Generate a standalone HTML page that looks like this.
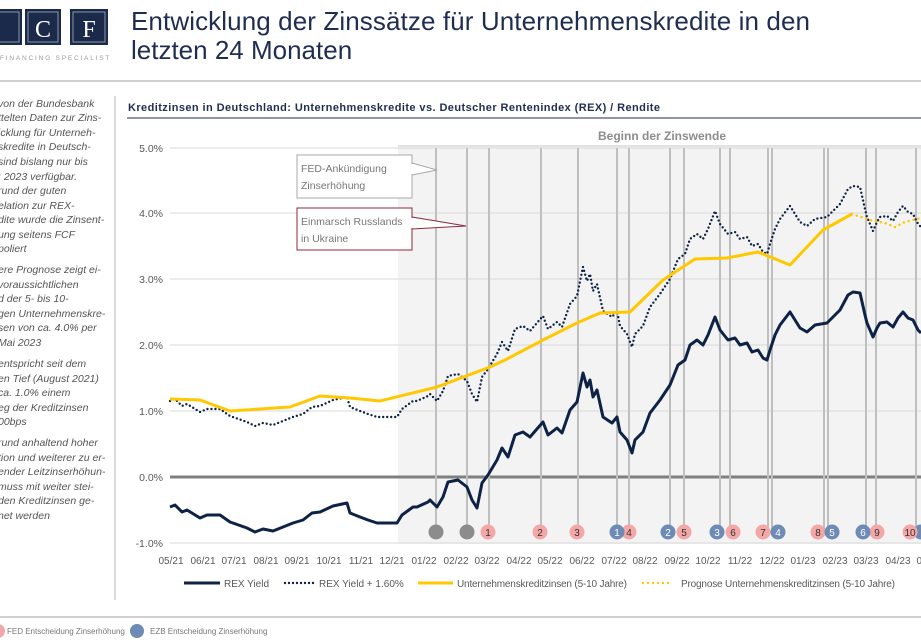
<!DOCTYPE html>
<html><head><meta charset="utf-8"><style>
body{margin:0;width:921px;height:638px;overflow:hidden;background:#fff;font-family:"Liberation Sans",sans-serif}
</style></head><body>
<svg width="921" height="638" viewBox="0 0 921 638" xmlns="http://www.w3.org/2000/svg" font-family="Liberation Sans, sans-serif">
<!-- logo -->
<rect x="-8" y="9" width="30" height="36" fill="#1b2a4a"/>
<rect x="-5" y="12" width="24" height="30" fill="none" stroke="#8a95aa" stroke-width="1"/>
<rect x="25" y="9" width="36" height="36" fill="#1b2a4a"/>
<rect x="28" y="12" width="30" height="30" fill="none" stroke="#8a95aa" stroke-width="1"/>
<text x="43" y="37" font-family="Liberation Serif, serif" font-size="24" fill="#fff" text-anchor="middle">C</text>
<rect x="70" y="9" width="38" height="36" fill="#1b2a4a"/>
<rect x="73" y="12" width="32" height="30" fill="none" stroke="#8a95aa" stroke-width="1"/>
<text x="89" y="37" font-family="Liberation Serif, serif" font-size="24" fill="#fff" text-anchor="middle">F</text>
<text x="0" y="60" font-size="6.5" fill="#9a9a9a" letter-spacing="1.8">FINANCING SPECIALIST</text>
<!-- title -->
<text x="131" y="30" font-size="26" fill="#1f2d4f" textLength="679">Entwicklung der Zinssätze für Unternehmenskredite in den</text>
<text x="131" y="59" font-size="26" fill="#1f2d4f">letzten 24 Monaten</text>
<line x1="0" y1="81" x2="921" y2="81" stroke="#d0d0d0" stroke-width="2"/>
<line x1="115" y1="96" x2="115" y2="600" stroke="#d0d0d0" stroke-width="1.5"/>
<!-- left text -->
<g font-size="10.5" font-style="italic" fill="#555">
<text x="-2" y="107">von der Bundesbank</text>
<text x="-2" y="121">ttelten Daten zur Zins-</text>
<text x="-2" y="136">icklung für Unterneh-</text>
<text x="-2" y="150">skredite in Deutsch-</text>
<text x="-2" y="165">sind bislang nur bis</text>
<text x="-2" y="180">: 2023 verfügbar.</text>
<text x="-2" y="194">rund der guten</text>
<text x="-2" y="209">elation zur REX-</text>
<text x="-2" y="223">dite wurde die Zinsent-</text>
<text x="-2" y="238">ung  seitens FCF</text>
<text x="-2" y="252">poliert</text>
<text x="-2" y="273">ere Prognose zeigt ei-</text>
<text x="-2" y="288">voraussichtlichen</text>
<text x="-2" y="302">d der 5- bis 10-</text>
<text x="-2" y="317">gen Unternehmenskre-</text>
<text x="-2" y="331">sen  von ca. 4.0% per</text>
<text x="-2" y="346"> Mai 2023</text>
<text x="-2" y="367"> entspricht seit dem</text>
<text x="-2" y="382">en Tief (August 2021)</text>
<text x="-2" y="396">ca. 1.0% einem</text>
<text x="-2" y="411">eg der Kreditzinsen</text>
<text x="-2" y="425">00bps</text>
<text x="-2" y="446">rund anhaltend hoher</text>
<text x="-2" y="461">tion und weiterer zu er-</text>
<text x="-2" y="475">ender Leitzinserhöhun-</text>
<text x="-2" y="490"> muss  mit weiter stei-</text>
<text x="-2" y="504">den Kreditzinsen ge-</text>
<text x="-2" y="519">net werden</text>
</g>
<!-- chart title -->
<text x="128" y="111" font-size="11" font-weight="bold" fill="#1f2d4f" textLength="532">Kreditzinsen in Deutschland:  Unternehmenskredite vs. Deutscher Rentenindex  (REX)  / Rendite</text>
<line x1="127" y1="118" x2="921" y2="118" stroke="#1f2d4f" stroke-width="1"/>
<!-- shaded -->
<rect x="398" y="147" width="523" height="397" fill="#f3f3f3"/>
<text x="598" y="140" font-size="12" font-weight="bold" fill="#8c8c8c">Beginn der Zinswende</text>
<line x1="398" y1="146" x2="921" y2="146" stroke="#d8d8d8" stroke-width="1.5"/>
<!-- grid -->
<g stroke="#d9d9d9" stroke-width="1">
<line x1="170" y1="148" x2="921" y2="148"/><line x1="170" y1="213" x2="921" y2="213"/>
<line x1="170" y1="279" x2="921" y2="279"/><line x1="170" y1="345" x2="921" y2="345"/>
<line x1="170" y1="411" x2="921" y2="411"/><line x1="170" y1="543" x2="921" y2="543"/>
</g>
<line x1="170" y1="477" x2="921" y2="477" stroke="#7f7f7f" stroke-width="3"/>
<g font-size="10.5" fill="#595959" text-anchor="end">
<text x="163" y="152">5.0%</text><text x="163" y="217">4.0%</text><text x="163" y="283">3.0%</text>
<text x="163" y="349">2.0%</text><text x="163" y="415">1.0%</text><text x="163" y="481">0.0%</text><text x="163" y="547">-1.0%</text>
</g>
<!-- vertical lines -->
<g stroke="#bfbfbf" stroke-width="2">
<line x1="436" y1="148" x2="436" y2="530"/><line x1="467" y1="148" x2="467" y2="530"/>
<line x1="489" y1="148" x2="489" y2="530"/><line x1="541" y1="148" x2="541" y2="530"/>
<line x1="578" y1="148" x2="578" y2="530"/><line x1="617" y1="148" x2="617" y2="530"/>
<line x1="629" y1="148" x2="629" y2="530"/><line x1="670" y1="148" x2="670" y2="530"/>
<line x1="684" y1="148" x2="684" y2="530"/><line x1="720" y1="148" x2="720" y2="530"/>
<line x1="730" y1="148" x2="730" y2="530"/><line x1="768" y1="148" x2="768" y2="530"/>
<line x1="772" y1="148" x2="772" y2="530"/><line x1="824" y1="148" x2="824" y2="530"/>
<line x1="828" y1="148" x2="828" y2="530"/><line x1="866" y1="148" x2="866" y2="530"/>
<line x1="876" y1="148" x2="876" y2="530"/><line x1="916" y1="148" x2="916" y2="530"/>
</g>
<!-- annotation boxes -->
<polygon points="412,163 437,170 412,175" fill="#fff" stroke="#aaa"/>
<rect x="297" y="155" width="115" height="43" fill="#fff" stroke="#aaa"/>
<rect x="411" y="164" width="2" height="10" fill="#fff"/>
<text x="301" y="172" font-size="10.5" fill="#777">FED-Ankündigung</text>
<text x="301" y="189" font-size="10.5" fill="#777">Zinserhöhung</text>
<polygon points="412,217 466,226 412,229" fill="#fff" stroke="#8b2a3a"/>
<rect x="297" y="208" width="115" height="42" fill="#fff" stroke="#8b2a3a"/>
<rect x="411" y="218" width="2" height="10" fill="#fff"/>
<text x="301" y="225" font-size="10.5" fill="#777">Einmarsch  Russlands</text>
<text x="301" y="242" font-size="10.5" fill="#777">in Ukraine</text>
<!-- series -->
<polyline points="170,507 175,505 182,512 187,510 200,518 207,515 220,515 230,522 247,528 255,532 263,529 273,531 283,527 293,523 303,520 312,513 320,512 333,506 347,503 350,513 360,517 368,520 377,523 397,523 402,515 413,507 417,507 428,502 430,500 437,507 443,497 448,482 458,480 467,487 472,500 477,508 482,483 488,475 497,460 502,448 508,457 515,435 523,432 530,437 543,422 548,435 557,428 562,433 570,410 577,402 583,373 587,387 590,380 593,397 597,390 603,417 612,423 617,417 620,432 627,440 632,453 635,440 643,432 650,413 660,400 670,385 678,365 685,360 690,345 697,340 703,345 708,335 715,317 720,330 728,340 735,338 740,345 747,343 752,352 758,350 763,358 767,360 770,350 775,335 780,325 790,312 795,320 800,328 807,332 815,325 827,323 835,315 840,310 848,295 853,292 860,293 865,315 867,323 873,337 877,328 880,323 887,322 893,327 898,318 903,312 908,318 913,320 918,330 921,333" fill="none" stroke="#0d2244" stroke-width="3" stroke-linejoin="round"/>
<polyline transform="translate(0,-106)" points="170,507 175,505 182,512 187,510 200,518 207,515 220,515 230,522 247,528 255,532 263,529 273,531 283,527 293,523 303,520 312,513 320,512 333,506 347,503 350,513 360,517 368,520 377,523 397,523 402,515 413,507 417,507 428,502 430,500 437,507 443,497 448,482 458,480 467,487 472,500 477,508 482,483 488,475 497,460 502,448 508,457 515,435 523,432 530,437 543,422 548,435 557,428 562,433 570,410 577,402 583,373 587,387 590,380 593,397 597,390 603,417 612,423 617,417 620,432 627,440 632,453 635,440 643,432 650,413 660,400 670,385 678,365 685,360 690,345 697,340 703,345 708,335 715,317 720,330 728,340 735,338 740,345 747,343 752,352 758,350 763,358 767,360 770,350 775,335 780,325 790,312 795,320 800,328 807,332 815,325 827,323 835,315 840,310 848,295 853,292 860,293 865,315 867,323 873,337 877,328 880,323 887,322 893,327 898,318 903,312 908,318 913,320 918,330 921,333" fill="none" stroke="#0d2244" stroke-width="2.4" stroke-linecap="round" stroke-dasharray="0 4"/>
<polyline points="170,399 200,400 230,411 290,407 320,396 350,398 380,401 437,387 490,367 505,360 543,340 577,323 600,313 630,312 663,280 695,259 727,258 758,252 790,265 823,230 852,214" fill="none" stroke="#ffc800" stroke-width="3" stroke-linejoin="round"/>
<polyline points="852,214 870,220 885,223 895,227 905,222 921,218" fill="none" stroke="#ffc800" stroke-width="2.5" stroke-linecap="round" stroke-dasharray="0 5"/>
<!-- markers -->
<g font-size="10" text-anchor="middle" fill="#333">
<circle cx="436" cy="532" r="7.5" fill="#8c8c8c"/><circle cx="467" cy="532" r="7.5" fill="#8c8c8c"/>
<circle cx="488" cy="532" r="7.5" fill="#f4a7a7"/><text x="488" y="536">1</text>
<circle cx="540" cy="532" r="7.5" fill="#f4a7a7"/><text x="540" y="536">2</text>
<circle cx="577" cy="532" r="7.5" fill="#f4a7a7"/><text x="577" y="536">3</text>
<circle cx="629" cy="532" r="7.5" fill="#f4a7a7"/><text x="629" y="536">4</text>
<circle cx="617" cy="532" r="7.5" fill="#6d8bb5"/><text x="617" y="536" fill="#fff">1</text>
<circle cx="684" cy="532" r="7.5" fill="#f4a7a7"/><text x="684" y="536">5</text>
<circle cx="668" cy="532" r="7.5" fill="#6d8bb5"/><text x="668" y="536" fill="#fff">2</text>
<circle cx="733" cy="532" r="7.5" fill="#f4a7a7"/><text x="733" y="536">6</text>
<circle cx="717" cy="532" r="7.5" fill="#6d8bb5"/><text x="717" y="536" fill="#fff">3</text>
<circle cx="763" cy="532" r="7.5" fill="#f4a7a7"/><text x="763" y="536">7</text>
<circle cx="778" cy="532" r="7.5" fill="#6d8bb5"/><text x="778" y="536" fill="#fff">4</text>
<circle cx="818" cy="532" r="7.5" fill="#f4a7a7"/><text x="818" y="536">8</text>
<circle cx="832" cy="532" r="7.5" fill="#6d8bb5"/><text x="832" y="536" fill="#fff">5</text>
<circle cx="877" cy="532" r="7.5" fill="#f4a7a7"/><text x="877" y="536">9</text>
<circle cx="863" cy="532" r="7.5" fill="#6d8bb5"/><text x="863" y="536" fill="#fff">6</text>
<circle cx="921" cy="532" r="7.5" fill="#6d8bb5"/>
<circle cx="910" cy="532" r="7.5" fill="#f4a7a7"/><text x="910" y="536">10</text>
</g>
<!-- x labels -->
<g font-size="10" fill="#595959" text-anchor="middle">
<text x="171" y="564">05/21</text><text x="203" y="564">06/21</text><text x="234" y="564">07/21</text>
<text x="266" y="564">08/21</text><text x="297" y="564">09/21</text><text x="329" y="564">10/21</text>
<text x="361" y="564">11/21</text><text x="392" y="564">12/21</text><text x="424" y="564">01/22</text>
<text x="456" y="564">02/22</text><text x="487" y="564">03/22</text><text x="519" y="564">04/22</text>
<text x="550" y="564">05/22</text><text x="582" y="564">06/22</text><text x="614" y="564">07/22</text>
<text x="645" y="564">08/22</text><text x="677" y="564">09/22</text><text x="708" y="564">10/22</text>
<text x="740" y="564">11/22</text><text x="772" y="564">12/22</text><text x="803" y="564">01/23</text>
<text x="835" y="564">02/23</text><text x="866" y="564">03/23</text><text x="898" y="564">04/23</text>
<text x="929" y="564">05/23</text>
</g>
<!-- legend -->
<line x1="184" y1="583" x2="220" y2="583" stroke="#0d2244" stroke-width="3"/>
<text x="224" y="587" font-size="10" fill="#595959">REX Yield</text>
<line x1="285" y1="583" x2="315" y2="583" stroke="#0d2244" stroke-width="2.4" stroke-linecap="round" stroke-dasharray="0 4"/>
<text x="319" y="587" font-size="10" fill="#595959">REX Yield + 1.60%</text>
<line x1="418" y1="583" x2="453" y2="583" stroke="#ffc800" stroke-width="3"/>
<text x="457" y="587" font-size="10" fill="#595959" textLength="170">Unternehmenskreditzinsen (5-10 Jahre)</text>
<line x1="643" y1="583" x2="673" y2="583" stroke="#ffc800" stroke-width="2.4" stroke-linecap="round" stroke-dasharray="0 5"/>
<text x="681" y="587" font-size="10" fill="#595959" textLength="214">Prognose Unternehmenskreditzinsen (5-10 Jahre)</text>
<line x1="0" y1="617" x2="921" y2="617" stroke="#d0d0d0" stroke-width="2"/>
<!-- footer -->
<circle cx="-2" cy="631" r="7" fill="#f4a7a7"/>
<text x="7" y="634" font-size="8" fill="#777">FED Entscheidung Zinserhöhung</text>
<circle cx="137" cy="631" r="7" fill="#6d8bb5"/>
<text x="150" y="634" font-size="8" fill="#777">EZB Entscheidung Zinserhöhung</text>
</svg>
</body></html>
